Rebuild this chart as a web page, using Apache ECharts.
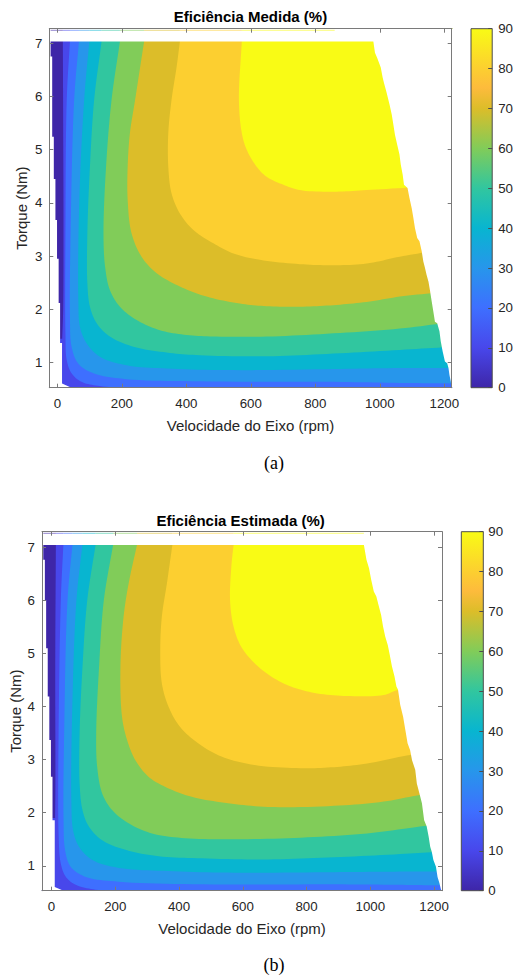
<!DOCTYPE html>
<html>
<head>
<meta charset="utf-8">
<title>Eficiência do motor</title>
<script src="https://cdn.jsdelivr.net/npm/echarts@6.0.0/dist/echarts.min.js"></script>
<style>
  html, body { margin: 0; padding: 0; background: #ffffff; }
  #chart { width: 516px; height: 977px; }
</style>
</head>
<body>
<div id="chart"></div>
<script>
// ---------------------------------------------------------------
// Efficiency maps (speed in rpm, torque in Nm, efficiency in %)
// ---------------------------------------------------------------
const levels = [0, 10, 20, 30, 40, 50, 60, 70, 80, 90];
const speedTicks = [0, 200, 400, 600, 800, 1000, 1200];
const torqueTicks = [1, 2, 3, 4, 5, 6, 7];

// ---- Eficiência Medida: iso-efficiency lines [rpm, Nm] ----
const medida10 = [[17, 7.03], [18, 5.5], [19, 3.5], [18, 2.0], [15, 1.45]];
const medida20 = [[39, 7.03], [29, 5.93], [25, 3.43], [25, 1.55], [29, 1.05], [44, 0.80], [75, 0.64], [132, 0.56], [236, 0.52], [400, 0.50]];
const medida30 = [[67, 7.03], [52, 5.93], [41, 3.43], [39, 1.86], [44, 1.30], [65, 0.98], [112, 0.80], [215, 0.69], [442, 0.65], [856, 0.64], [1062, 0.62], [1240, 0.61]];
const medida40 = [[99, 7.03], [83, 5.93], [68, 4.06], [65, 2.18], [70, 1.67], [91, 1.36], [132, 1.11], [215, 0.95], [339, 0.89], [546, 0.86], [856, 0.88], [1062, 0.90], [1240, 0.90]];
const medida50 = [[137, 7.03], [114, 5.93], [101, 4.68], [93, 3.43], [93, 2.49], [101, 2.05], [122, 1.74], [163, 1.49], [236, 1.30], [339, 1.19], [442, 1.14], [649, 1.12], [856, 1.17], [1062, 1.24], [1230, 1.30]];
const medida60 = [[194, 7.03], [168, 5.93], [151, 4.68], [143, 3.43], [148, 2.80], [163, 2.36], [194, 2.05], [246, 1.80], [318, 1.61], [401, 1.52], [494, 1.49], [649, 1.49], [856, 1.55], [1062, 1.64], [1220, 1.76]];
const medida70 = [[269, 7.03], [241, 5.93], [225, 5.31], [218, 4.68], [218, 4.06], [230, 3.43], [261, 2.99], [308, 2.68], [380, 2.43], [463, 2.24], [566, 2.11], [649, 2.06], [752, 2.05], [856, 2.08], [959, 2.14], [1062, 2.24], [1200, 2.33]];
const medida80 = [[380, 7.03], [370, 6.56], [354, 5.93], [344, 5.31], [344, 4.68], [354, 4.18], [380, 3.80], [422, 3.49], [484, 3.24], [546, 3.05], [628, 2.93], [752, 2.85], [856, 2.83], [959, 2.86], [1062, 2.99], [1170, 3.10]];
const medida90 = [[572, 7.03], [563, 5.93], [572, 5.31], [587, 5.00], [618, 4.68], [649, 4.49], [701, 4.34], [752, 4.24], [856, 4.21], [959, 4.24], [1120, 4.30]];
// measured operating envelope
const medidaLeftEdge = [[-21, 7.03], [-21, 6.75], [-16, 6.75], [-16, 5.24], [-11, 5.24], [-11, 4.45], [-6, 4.45], [-6, 3.68], [-1, 3.68], [-1, 2.95], [4, 2.95], [4, 2.12], [8.5, 2.12], [8.5, 1.37], [14.5, 1.37], [14.5, 0.61], [47, 0.52]];
const medidaRightEdge = [[980, 7.03], [985, 6.82], [992, 6.72], [1003, 6.54], [1009, 6.35], [1013, 6.25], [1021, 6.07], [1030, 5.85], [1037, 5.66], [1042, 5.47], [1047, 5.28], [1054, 5.09], [1061, 4.91], [1065, 4.72], [1071, 4.53], [1075, 4.34], [1086, 4.28], [1092, 4.09], [1099, 3.90], [1104, 3.72], [1109, 3.53], [1116, 3.34], [1123, 3.28], [1130, 3.09], [1135, 2.90], [1140, 2.78], [1145, 2.65], [1151, 2.52], [1156, 2.34], [1161, 2.15], [1166, 1.96], [1171, 1.77], [1178, 1.74], [1185, 1.59], [1189, 1.40], [1195, 1.21], [1202, 1.02], [1209, 0.99], [1213, 0.90], [1216, 0.77], [1220, 0.65], [1223, 0.52]];
const medidaTopRowTorque = 7.24;
const medidaTopRowEnd = 860;

// ---- Eficiência Estimada: iso-efficiency lines [rpm, Nm] ----
const estimada10 = [[13.5, 7.05], [11.5, 4.75], [12, 2.5], [11, 1.9]];
const estimada20 = [[37, 7.05], [29, 6.01], [22, 3.50], [22, 1.61], [29, 1.04], [45, 0.79], [76, 0.64], [138, 0.55], [263, 0.51], [400, 0.50]];
const estimada30 = [[65.5, 7.05], [50, 6.01], [39.5, 3.50], [37.5, 1.92], [42.5, 1.29], [60, 0.98], [107, 0.79], [211, 0.70], [471, 0.65], [886, 0.65], [1100, 0.64], [1240, 0.63]];
const estimada40 = [[96.6, 7.05], [78, 6.01], [65.5, 4.13], [62, 2.24], [67.5, 1.67], [86, 1.36], [128, 1.11], [211, 0.96], [367, 0.90], [575, 0.87], [886, 0.88], [1094, 0.89], [1240, 0.89]];
const estimada50 = [[138, 7.05], [112, 6.01], [97, 4.75], [88, 3.50], [88, 2.55], [97, 2.05], [117, 1.74], [159, 1.48], [232, 1.30], [336, 1.18], [471, 1.14], [679, 1.12], [886, 1.16], [1094, 1.22], [1230, 1.27]];
const estimada60 = [[193, 7.05], [164, 6.01], [149, 4.75], [140, 3.50], [143, 2.87], [159, 2.36], [190, 2.05], [242, 1.80], [315, 1.61], [419, 1.52], [575, 1.50], [782, 1.53], [990, 1.61], [1169, 1.75], [1220, 1.78]];
const estimada70 = [[268, 7.05], [242, 6.33], [226, 5.70], [216, 4.75], [221, 3.81], [237, 3.37], [263, 2.99], [304, 2.68], [356, 2.49], [440, 2.30], [554, 2.18], [679, 2.11], [886, 2.13], [1042, 2.21], [1151, 2.33], [1200, 2.36]];
const estimada80 = [[379, 7.05], [362, 6.33], [346, 5.70], [341, 5.07], [346, 4.44], [367, 4.00], [403, 3.62], [460, 3.31], [533, 3.06], [637, 2.90], [782, 2.84], [886, 2.86], [990, 2.93], [1125, 3.09], [1170, 3.12]];
const estimada90 = [[571, 7.05], [564, 6.64], [560, 6.01], [571, 5.51], [595, 5.13], [637, 4.82], [689, 4.57], [751, 4.38], [834, 4.25], [938, 4.20], [1042, 4.22], [1084, 4.31], [1120, 4.33]];
// estimated operating envelope
const estimadaLeftEdge = [[-26, 7.05], [-26, 6.77], [-21, 6.77], [-21, 6.01], [-17, 6.01], [-17, 5.10], [-12, 5.10], [-12, 4.19], [-7, 4.19], [-7, 3.37], [-2, 3.37], [-2, 2.68], [3, 2.68], [3, 1.86], [10, 1.86], [10, 0.60], [41, 0.52]];
const estimadaRightEdge = [[980, 7.05], [988, 6.77], [996, 6.61], [1003, 6.39], [1011, 6.17], [1019, 6.08], [1027, 5.89], [1034, 5.73], [1040, 5.51], [1047, 5.32], [1055, 5.16], [1061, 4.98], [1068, 4.76], [1076, 4.57], [1082, 4.38], [1087, 4.32], [1094, 4.03], [1103, 3.81], [1110, 3.56], [1117, 3.31], [1125, 3.18], [1131, 2.99], [1141, 2.81], [1146, 2.55], [1154, 2.37], [1162, 2.18], [1169, 1.86], [1177, 1.74], [1183, 1.55], [1188, 1.36], [1193, 1.26], [1198, 1.11], [1206, 0.98], [1211, 0.79], [1217, 0.67], [1221, 0.57], [1224, 0.52]];
const estimadaTopRowTorque = 7.27;
const estimadaTopRowEnd = 980;

// ---------------------------------------------------------------
// Styling
// ---------------------------------------------------------------
// parula colours at each contour level (0..90 mapped on 0..1)
const levelColors = ['#3E26A8', '#4847EB', '#3E6FFF', '#2796EB', '#08B5D0', '#31C69F', '#81CC59', '#DCBD29', '#FCCF30', '#F9FB15'];
const parulaStops = [
  [0, '#3E26A8'], [1 / 9, '#4847EB'], [2 / 9, '#3E6FFF'], [3 / 9, '#2796EB'],
  [4 / 9, '#08B5D0'], [5 / 9, '#31C69F'], [6 / 9, '#81CC59'], [7 / 9, '#DCBD29'],
  [0.835, '#FDBB3C'], [8 / 9, '#FCCF30'], [1, '#F9FB15']
];
const FONT = 'Liberation Sans, Arial, Helvetica, sans-serif';
const TEXT = '#262626';
const BOX = '#7a7a7a';
const FAR_L = -3000, FAR_R = 5000, FAR_DOWN = -5, FAR_UP = 20;
const plain = v => String(v);

// centripetal Catmull-Rom through pixel points, so the iso-lines look continuous
function smoothPath(pts, steps) {
  if (pts.length < 3) return pts.slice();
  const ext = (a, b) => [2 * a[0] - b[0], 2 * a[1] - b[1]];
  const knot = (a, b) => Math.max(Math.sqrt(Math.hypot(b[0] - a[0], b[1] - a[1])), 1e-4);
  const out = [pts[0]];
  for (let i = 0; i < pts.length - 1; i++) {
    const p0 = i > 0 ? pts[i - 1] : ext(pts[0], pts[1]);
    const p1 = pts[i], p2 = pts[i + 1];
    const p3 = i + 2 < pts.length ? pts[i + 2] : ext(pts[i + 1], pts[i]);
    const t0 = 0, t1 = knot(p0, p1), t2 = t1 + knot(p1, p2), t3 = t2 + knot(p2, p3);
    for (let s = 1; s <= steps; s++) {
      const t = t1 + (t2 - t1) * s / steps;
      const mix = (a, b, ta, tb) => [
        ((tb - t) * a[0] + (t - ta) * b[0]) / (tb - ta),
        ((tb - t) * a[1] + (t - ta) * b[1]) / (tb - ta)
      ];
      const a1 = mix(p0, p1, t0, t1), a2 = mix(p1, p2, t1, t2), a3 = mix(p2, p3, t2, t3);
      const b1 = mix(a1, a2, t0, t2), b2 = mix(a2, a3, t1, t3);
      out.push(mix(b1, b2, t1, t2));
    }
  }
  return out;
}

// one efficiency map: filled bands, white outside the envelope, colorbar
function buildPanel(k, lines, leftEdge, rightEdge, topRowTorque, topRowEnd) {
  const xi = 3 * k, yi = 3 * k;

  const bands = {
    type: 'custom', xAxisIndex: xi, yAxisIndex: yi, clip: true, silent: true, z: 2,
    data: levels.map(l => [l]),
    renderItem: function (params, api) {
      const i = params.dataIndex;
      if (i === 0) {
        const cs = params.coordSys;
        return { type: 'rect', shape: { x: cs.x, y: cs.y, width: cs.width, height: cs.height }, style: { fill: levelColors[0] } };
      }
      const line = lines[i - 1];
      const first = line[0], last = line[line.length - 1];
      const path = smoothPath(line.map(p => api.coord(p)), 10);
      // the 10 % line leaves through the left edge, all others through the right edge
      const closing = levels[i] === 10
        ? [[FAR_L, last[1]], [FAR_L, FAR_DOWN], [FAR_R, FAR_DOWN], [FAR_R, FAR_UP], [first[0], FAR_UP]]
        : [[FAR_R, last[1]], [FAR_R, FAR_UP], [first[0], FAR_UP]];
      return {
        type: 'polygon',
        shape: { points: path.concat(closing.map(p => api.coord(p))) },
        style: { fill: levelColors[i] }
      };
    }
  };

  const masks = {
    type: 'custom', xAxisIndex: xi, yAxisIndex: yi, clip: true, silent: true, z: 3,
    data: [[0], [1], [2]],
    renderItem: function (params, api) {
      const topT = leftEdge[0][1];
      let pts;
      if (params.dataIndex === 0) {
        const last = leftEdge[leftEdge.length - 1];
        pts = leftEdge.concat([[last[0], FAR_DOWN], [FAR_L, FAR_DOWN], [FAR_L, FAR_UP], [leftEdge[0][0], FAR_UP]]);
      } else if (params.dataIndex === 1) {
        const last = rightEdge[rightEdge.length - 1];
        pts = rightEdge.concat([[last[0], FAR_DOWN], [FAR_R, FAR_DOWN], [FAR_R, FAR_UP], [rightEdge[0][0], FAR_UP]]);
      } else {
        pts = [[FAR_L, topT], [FAR_R, topT], [FAR_R, FAR_UP], [FAR_L, FAR_UP]];
      }
      return { type: 'polygon', shape: { points: pts.map(p => api.coord(p)) }, style: { fill: '#ffffff' } };
    }
  };

  // thin sliver of the top torque row
  const starts = [leftEdge[0][0]].concat(lines.map(l => l[0][0]));
  const topRow = {
    type: 'custom', xAxisIndex: xi, yAxisIndex: yi, clip: true, silent: true, z: 4,
    data: levels.map(l => [l]),
    renderItem: function (params, api) {
      const i = params.dataIndex;
      const x0 = starts[i];
      const x1 = i + 1 < starts.length ? starts[i + 1] : topRowEnd;
      const a = api.coord([x0, topRowTorque]), b = api.coord([x1, topRowTorque]);
      return {
        type: 'line', shape: { x1: a[0], y1: a[1], x2: b[0], y2: b[1] },
        style: { stroke: levelColors[i], lineWidth: 1.2, opacity: 0.45 }
      };
    }
  };

  const colorbar = {
    type: 'custom', xAxisIndex: xi + 2, yAxisIndex: yi + 2, silent: true, z: 2,
    data: [[0, 0]],
    renderItem: function (params, api) {
      const lo = api.coord([0, levels[0]]);
      const hi = api.coord([1, levels[levels.length - 1]]);
      return {
        type: 'rect',
        shape: { x: lo[0], y: hi[1], width: hi[0] - lo[0], height: lo[1] - hi[1] },
        style: {
          fill: new echarts.graphic.LinearGradient(0, 1, 0, 0,
            parulaStops.map(s => ({ offset: s[0], color: s[1] }))),
          stroke: '#4d4d4d', lineWidth: 1
        }
      };
    }
  };

  return [bands, masks, topRow, colorbar];
}

// axes: box with inward ticks on all four sides
function plotAxes(gridIndex, xRange, yRange, nameGapY) {
  const lineStyle = { color: BOX, width: 1 };
  const label = { color: TEXT, fontSize: 13.3, fontFamily: FONT, formatter: plain };
  const x = [
    {
      gridIndex, type: 'value', position: 'bottom', min: xRange[0], max: xRange[1], z: 10,
      axisLine: { show: true, onZero: false, lineStyle },
      axisTick: { show: true, inside: true, length: 4, customValues: speedTicks, lineStyle },
      axisLabel: Object.assign({ margin: 9, customValues: speedTicks }, label),
      splitLine: { show: false },
      name: 'Velocidade do Eixo (rpm)', nameLocation: 'middle', nameGap: 30, nameMoveOverlap: false,
      nameTextStyle: { color: TEXT, fontSize: 15, fontFamily: FONT }
    },
    {
      gridIndex, type: 'value', position: 'top', min: xRange[0], max: xRange[1], z: 10,
      axisLine: { show: true, onZero: false, lineStyle },
      axisTick: { show: true, inside: true, length: 4, customValues: speedTicks, lineStyle },
      axisLabel: { show: false }, splitLine: { show: false }
    }
  ];
  const y = [
    {
      gridIndex, type: 'value', position: 'left', min: yRange[0], max: yRange[1], z: 10,
      axisLine: { show: true, onZero: false, lineStyle },
      axisTick: { show: true, inside: true, length: 4, customValues: torqueTicks, lineStyle },
      axisLabel: Object.assign({ margin: 7, customValues: torqueTicks }, label),
      splitLine: { show: false },
      name: 'Torque (Nm)', nameLocation: 'middle', nameGap: nameGapY, nameMoveOverlap: false,
      nameTextStyle: { color: TEXT, fontSize: 15, fontFamily: FONT }
    },
    {
      gridIndex, type: 'value', position: 'right', min: yRange[0], max: yRange[1], z: 10,
      axisLine: { show: true, onZero: false, lineStyle },
      axisTick: { show: true, inside: true, length: 4, customValues: torqueTicks, lineStyle },
      axisLabel: { show: false }, splitLine: { show: false }
    }
  ];
  return { x, y };
}

function colorbarAxes(gridIndex, margin) {
  return {
    x: { gridIndex, type: 'value', min: 0, max: 1, show: false },
    y: {
      gridIndex, type: 'value', position: 'right', min: 0, max: 90, interval: 10, z: 10,
      axisLine: { show: false, onZero: false },
      axisTick: { show: true, inside: true, length: 4, lineStyle: { color: '#4d4d4d', width: 1 } },
      axisLabel: { margin, color: TEXT, fontSize: 13.3, fontFamily: FONT, formatter: plain },
      splitLine: { show: false }
    }
  };
}

const a1 = plotAxes(0, [-25, 1223], [0.53, 7.27], 20);
const c1 = colorbarAxes(1, 6);
const a2 = plotAxes(2, [-30, 1225], [0.53, 7.30], 19);
const c2 = colorbarAxes(3, 5);

const option = {
  animation: false,
  backgroundColor: '#ffffff',
  grid: [
    { left: 49.3, top: 28.7, width: 402.4, height: 359 },
    { left: 471, top: 28.7, width: 21.7, height: 359 },
    { left: 39.3, top: 531.7, width: 402.7, height: 359 },
    { left: 461.3, top: 531.7, width: 22, height: 359 }
  ],
  xAxis: [a1.x[0], a1.x[1], c1.x, a2.x[0], a2.x[1], c2.x],
  yAxis: [a1.y[0], a1.y[1], c1.y, a2.y[0], a2.y[1], c2.y],
  series: [].concat(
    buildPanel(0, [medida10, medida20, medida30, medida40, medida50, medida60, medida70, medida80, medida90],
      medidaLeftEdge, medidaRightEdge, medidaTopRowTorque, medidaTopRowEnd),
    buildPanel(1, [estimada10, estimada20, estimada30, estimada40, estimada50, estimada60, estimada70, estimada80, estimada90],
      estimadaLeftEdge, estimadaRightEdge, estimadaTopRowTorque, estimadaTopRowEnd)
  ),
  graphic: [
    { type: 'text', x: 250.5, y: 16.7, style: { text: 'Eficiência Medida (%)', fill: '#000', fontSize: 15, fontWeight: 'bold', fontFamily: FONT, align: 'center', verticalAlign: 'middle' } },
    { type: 'text', x: 240.6, y: 520.7, style: { text: 'Eficiência Estimada (%)', fill: '#000', fontSize: 15, fontWeight: 'bold', fontFamily: FONT, align: 'center', verticalAlign: 'middle' } },
    { type: 'text', x: 274, y: 463, style: { text: '(a)', fill: '#000', fontSize: 18, fontFamily: 'Liberation Serif, Times New Roman, serif', align: 'center', verticalAlign: 'middle' } },
    { type: 'text', x: 274, y: 965, style: { text: '(b)', fill: '#000', fontSize: 18, fontFamily: 'Liberation Serif, Times New Roman, serif', align: 'center', verticalAlign: 'middle' } }
  ]
};

const chart = echarts.init(document.getElementById('chart'), null, { renderer: 'svg', width: 516, height: 977 });
chart.setOption(option);
</script>
</body>
</html>
